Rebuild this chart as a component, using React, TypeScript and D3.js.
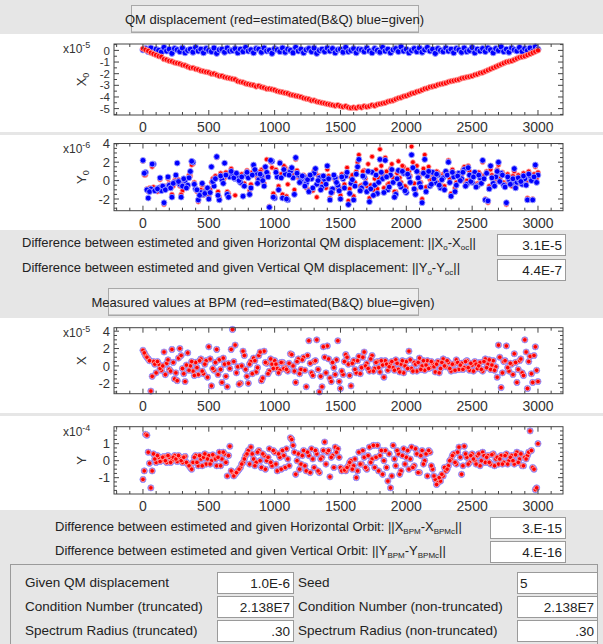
import React from "react";
import * as d3 from "d3";

// ---- data read off the screenshot ----
const STEP = 20; // sampled every 20 elements along the ring
const xTickVals = [0, 500, 1000, 1500, 2000, 2500, 3000];

// horizontal QM displacement (x1e-5)
const x0Given = [
  0.05, 0.15, -0.1, 0.2, -0.2, 0.1, 0.0, -0.15, 0.25, -0.05,
  0.1, -0.25, 0.15, 0.05, -0.1, 0.2, -0.2, 0.0, 0.1, -0.15,
  0.25, -0.05, 0.1, -0.2, 0.15, 0.0, -0.1, 0.2, -0.25, 0.05,
  0.1, -0.15, 0.2, -0.05, 0.0, 0.15, -0.2, 0.1, -0.1, 0.25,
  -0.05, 0.05, -0.2, 0.15, 0.1, -0.15, 0.2, -0.05, 0.0, -0.25,
  0.15, 0.05, -0.1, 0.2, -0.15, 0.1, 0.0, -0.2, 0.25, -0.05,
  0.1, -0.2, 0.05, 0.15, -0.1, 0.2, -0.25, 0.0, 0.1, -0.1,
  0.2, -0.05, 0.15, -0.2, 0.05, 0.1, -0.15, 0.25, -0.1, 0.0,
  0.15, -0.2, 0.1, 0.05, -0.1, 0.2, -0.05, -0.2, 0.15, 0.0,
  -0.15, 0.25, -0.05, 0.1, -0.2, 0.05, 0.15, -0.1, 0.3, -0.05,
  0.1, -0.2, 0.0, 0.15, -0.1, 0.2, -0.15, 0.05, 0.25, -0.05,
  0.1, -0.25, 0.15, 0.0, -0.1, 0.2, -0.05, 0.1, -0.2, 0.15,
  0.05, -0.15, 0.2, -0.1, 0.0, 0.25, -0.2, 0.1, -0.05, 0.15,
  -0.1, 0.2, 0.05, -0.2, 0.15, 0.0, 0.3, -0.1, 0.1, -0.15,
  0.2, 0.05, -0.05, 0.25, -0.1, 0.15, 0.0, 0.2, -0.1, 0.3,
  0.1,
];
const x0Est = [
  0.15, 0.05, -0.05, -0.2, -0.3, -0.4, -0.5, -0.55, -0.75, -0.8,
  -0.9, -0.95, -1.05, -1.1, -1.15, -1.25, -1.3, -1.4, -1.5, -1.5,
  -1.6, -1.65, -1.75, -1.8, -1.85, -1.9, -2.0, -2.0, -2.1, -2.2,
  -2.2, -2.3, -2.35, -2.4, -2.45, -2.5, -2.65, -2.7, -2.75, -2.85,
  -2.9, -2.95, -3.0, -3.1, -3.05, -3.15, -3.2, -3.3, -3.3, -3.35,
  -3.4, -3.5, -3.55, -3.6, -3.65, -3.7, -3.8, -3.85, -3.9, -3.95,
  -4.0, -4.1, -4.15, -4.2, -4.3, -4.3, -4.4, -4.45, -4.5, -4.55,
  -4.6, -4.65, -4.7, -4.75, -4.7, -4.8, -4.85, -4.8, -4.9, -4.95,
  -4.9, -4.95, -4.85, -4.9, -4.8, -4.85, -4.8, -4.7, -4.75, -4.65,
  -4.6, -4.55, -4.5, -4.4, -4.35, -4.3, -4.2, -4.1, -4.05, -3.95,
  -3.9, -3.8, -3.7, -3.65, -3.55, -3.5, -3.4, -3.3, -3.25, -3.15,
  -3.1, -3.05, -2.95, -2.9, -2.85, -2.8, -2.7, -2.65, -2.6, -2.55,
  -2.5, -2.4, -2.35, -2.3, -2.25, -2.2, -2.1, -2.05, -1.95, -1.9,
  -1.8, -1.7, -1.6, -1.5, -1.4, -1.3, -1.2, -1.1, -1.0, -0.95,
  -0.9, -0.8, -0.7, -0.6, -0.55, -0.5, -0.4, -0.3, -0.2, -0.1,
  0.0,
];

// vertical QM displacement (x1e-6); "A" at 0,20,40.. and "B" at 10,30,50..
const y0GivenA = [
  2.2, 0.9, -1.9, -0.9, 1.8, -1.0, -0.8, -1.1, -2.4, -0.7,
  -0.5, -1.8, -0.2, 1.9, -0.4, -0.6, 0.0, -0.5, 1.0, 2.0,
  -0.9, -2.1, -1.3, -1.5, -1.2, -2.0, 1.5, -0.6, 2.6, -2.1,
  0.1, 1.9, -1.5, 0.4, 0.7, 0.2, 0.5, -0.2, -1.7, 0.6,
  0.3, -0.8, 1.7, 0.8, 0.1, 0.5, -0.6, 0.9, -2.9, 2.1,
  -1.9, 0.4, 1.9, -1.9, 0.7, -2.1, 1.0, 0.3, 2.5, 0.6,
  0.0, 0.4, -0.3, -1.2, 0.2, 0.8, -0.4, 0.3, -0.7, 0.1,
  1.6, -2.1, -0.9, 0.3, -0.5, -2.0, 0.2, 0.5, -2.6, -0.3,
  -2.1, 0.7, 2.3, -0.8, 0.4, -1.2, -2.3, 0.9, -0.5, -1.4,
  2.3, 0.2, 2.2, -1.0, 0.6, -0.2, -1.5, 1.1, -0.7, 0.8,
  -1.3, 0.4, 2.8, -0.9, 1.0, -0.3, -2.4, 2.3, 0.5, -0.6,
  0.9, -0.2, 0.6, -0.8, 0.3, 1.0, 2.0, -1.7, 0.4, -0.5,
  0.8, 0.2, 1.2, -0.4, 0.6, -0.2, 0.9, -0.6, 0.3, 2.2,
  -2.1, -2.2, 1.6, -0.3, 0.4, 2.0, 0.8, -0.5, -2.4, 0.1,
  -0.3, 1.3, -0.2, 0.0, -0.4, 0.2, -2.1, 0.5, -2.1, 1.7,
  0.6,
];
const y0GivenB = [
  0.8, -1.0, -1.2, 1.8, -1.1, -0.9, 0.3, -0.6, -1.0, 0.4,
  -0.8, -0.3, 0.6, -0.1, -1.8, 0.2, -0.8, 0.3, 2.1, -0.4,
  -1.0, -1.6, -0.3, -1.4, -0.8, -1.3, -0.1, 0.2, -1.6, 0.5,
  -0.3, 0.6, -1.8, 1.0, 0.3, 0.8, 0.0, 0.4, -0.6, 0.9,
  -1.5, 0.6, 1.2, -0.3, 0.7, 0.0, 1.5, 0.4, 2.2, -1.8,
  0.9, -1.0, 0.3, 1.2, -2.0, 0.6, 1.4, -1.5, 0.8, -0.2,
  0.5, -0.6, 0.1, 0.6, -0.8, 1.3, 0.0, -1.0, 0.5, -0.4,
  0.2, -1.3, 0.6, -0.2, -1.1, 0.4, -0.8, 0.9, -1.4, 0.1,
  -0.6, 1.5, -1.1, 0.5, -0.3, 1.0, -0.9, -1.6, 0.6, -0.2,
  0.9, -1.3, 0.4, -0.7, 1.2, -1.8, 0.2, -0.4, 1.0, -1.1,
  0.7, -0.2, 1.4, -1.5, 0.3, -0.7, 0.8, -1.2, 1.0, -0.4,
  0.2, 0.7, -0.5, 0.1, -1.0, 0.6, -0.2, 0.9, -1.2, 0.5,
  0.0, 0.9, -0.6, 1.4, -0.1, 0.4, -0.7, 0.6, -0.3, 0.2,
  0.8, -0.9, 0.3, -0.6, 1.0, -0.1, 0.6, -0.7, 0.4, -0.4,
  0.2, -0.8, 0.3, -0.1, 0.5, -0.5, 0.7, 0.0, 0.4, -0.2,
];
const y0EstA = [
  2.1, 0.6, -1.2, -1.0, -0.7, -0.9, -1.1, -0.6, -2.6, -0.9,
  -0.3, -1.5, 0.0, -0.3, -0.6, -1.1, 0.2, -0.7, 0.5, 1.8,
  -0.8, -2.3, -1.0, -1.6, -1.4, -1.7, -0.2, 0.3, 2.5, -1.8,
  0.4, 0.3, -1.2, 0.6, 0.9, -1.6, 0.7, 0.1, -0.5, 0.8,
  0.5, -0.4, 1.5, 0.6, 0.3, 1.2, -0.3, 2.3, -2.8, 1.4,
  -1.7, 0.8, 2.0, -1.5, 1.4, -0.4, 1.2, 0.6, 2.3, 0.3,
  -0.2, 0.6, -0.8, -1.0, 0.5, 1.1, -1.8, 0.5, -0.3, 0.4,
  1.2, -1.9, -1.3, 0.0, -0.8, -1.6, 0.5, 0.8, -2.2, 0.3,
  -1.7, 1.0, 2.8, -0.5, 1.1, -0.6, -1.9, 2.6, 0.2, -0.9,
  3.4, 0.7, 2.5, -0.4, 1.3, 0.3, -1.2, 2.1, -0.2, 1.5,
  -0.8, 1.0, 3.7, -0.3, 1.6, 0.4, -2.0, 2.8, 1.0, 0.1,
  0.5, 0.2, 0.9, -0.5, 0.7, 0.6, 2.2, -1.4, 0.8, -0.2,
  0.5, 0.6, 1.5, 0.0, 1.0, 0.3, 0.6, -0.3, 0.7, 2.0,
  -2.0, -2.4, 1.2, 0.1, 0.2, 1.7, 0.5, -0.2, -2.6, 0.4,
  -0.6, 1.0, 0.2, -0.3, -0.1, 0.5, -1.9, 0.3, -2.0, 1.5,
  0.9,
];
const y0EstB = [
  0.6, -0.9, -0.8, 1.5, -1.0, -1.2, 0.1, -0.8, -0.6, 0.2,
  -0.5, -0.6, 0.4, 0.1, -1.5, -0.2, -0.6, 0.6, 1.7, -0.2,
  -1.2, -1.3, -0.5, -1.1, -1.0, -0.9, 0.2, 0.5, -1.2, 0.8,
  0.0, 0.9, -1.4, 1.3, 0.5, 0.6, 0.3, 0.7, -0.3, 1.1,
  -1.1, 0.9, 1.0, 0.2, 1.0, 0.4, 1.3, 0.8, 2.0, -1.4,
  1.2, -0.6, 0.7, 1.6, -1.7, 1.0, 1.2, -1.0, 1.1, 0.2,
  0.2, -0.3, 0.4, 0.3, -1.1, 0.9, 0.5, -0.6, 0.2, -0.8,
  0.5, -0.9, 0.3, 0.3, -0.7, 0.7, -0.4, 1.4, -0.9, 0.6,
  -0.2, 2.0, -0.6, 1.0, 0.2, 1.8, -0.5, -1.0, 1.2, 0.3,
  1.6, -0.8, 1.0, -0.3, 1.8, -1.2, 0.8, 0.3, 1.6, -0.6,
  1.2, 0.5, 2.0, -1.0, 0.9, -0.2, 1.3, -0.7, 1.5, 0.1,
  0.5, 1.0, -0.2, 0.5, -0.6, 0.9, 0.2, 1.2, -0.8, 0.8,
  0.3, 1.2, -0.3, 1.6, 0.2, 0.7, -0.4, 0.9, 0.0, 0.5,
  1.0, -0.6, 0.6, -0.3, 1.2, 0.2, 0.9, -0.4, 0.7, -0.1,
  0.5, -0.5, 0.6, 0.2, 0.8, -0.2, 1.0, 0.3, 0.7, 0.2,
];

// orbit at the BPMs; estimated and given coincide (diff ~1e-15)
const xBpmA = [
  1.8, 1.2, 0.8, -2.9, 0.5, -0.8, 0.2, -0.5, 1.6, 0.3,
  -0.4, 1.9, -1.5, -1.7, 2.0, -0.3, -1.8, 1.5, 0.0, -0.6,
  0.4, -1.0, 0.8, -0.9, 0.6, 2.2, -2.3, -0.5, 1.9, 0.7,
  -1.9, 0.2, -2.4, -0.3, 4.2, 2.4, -0.1, -2.0, 1.7, -0.4,
  -2.0, 0.5, 0.9, -0.7, 1.2, -1.7, 1.7, 0.3, -0.6, 0.2,
  0.6, -0.3, -0.5, 0.4, -0.2, -0.6, 1.4, 0.0, -1.9, 0.8,
  -0.4, 1.0, -2.4, 2.9, -0.8, 0.5, 3.0, -3.0, -2.4, 1.0,
  2.3, -1.4, 0.4, -1.0, 2.9, -2.6, -1.0, 1.3, 0.2, -2.3,
  0.6, -0.8, 1.1, -0.2, 1.6, 0.3, -0.6, 1.2, -0.3, 0.5,
  -0.7, 0.1, 0.6, -0.5, 0.3, -0.2, 0.7, -0.4, 0.2, -0.8,
  0.5, 1.7, -0.3, 0.4, -0.6, 0.9, 0.0, -0.5, 0.6, -0.2,
  0.3, -0.7, 0.5, -0.3, 0.8, -0.1, 0.4, -0.6, 0.2, 0.7,
  -0.4, 0.3, -0.2, 0.6, -0.5, 0.1, 0.5, -0.3, 0.4, -0.6,
  0.8, 0.2, -0.4, 0.6, -0.1, 2.4, -2.5, 0.5, 2.3, -0.6,
  0.2, 1.4, -1.9, 0.6, -0.8, 3.0, -2.6, 1.1, -1.9, 2.2,
  -1.8,
];
const xBpmB = [
  1.5, 1.0, 0.6, -1.2, 0.2, 0.5, -0.3, 0.0, -1.0, 0.7,
  -0.6, 0.4, -0.8, 0.9, 1.2, -0.9, 0.1, -0.5, 0.5, -1.1,
  -0.2, 0.6, -0.6, 0.2, -1.3, 0.8, -0.3, 0.4, -1.0, -0.4,
  0.9, -1.2, 0.3, 1.9, 0.5, -0.8, -2.1, 0.0, 1.2, -1.2,
  0.2, -0.9, 0.6, -0.2, 1.6, -1.4, 0.4, -0.9, 0.8, -0.3,
  0.2, -0.8, 0.4, -0.3, -0.4, 0.3, 1.3, -0.6, 0.5, -0.9,
  0.7, -0.5, 1.2, 0.3, -1.1, 0.6, -0.4, -1.2, 2.2, -0.8,
  0.8, -1.8, -0.2, 0.7, -1.8, -0.6, 0.5, 1.0, -1.1, 0.3,
  -0.4, 0.6, -0.9, 1.0, 0.0, -0.3, 0.8, -0.6, 0.4, -0.2,
  0.6, -1.3, 0.2, -0.1, 0.5, -0.5, 0.3, -0.7, 0.6, 0.0,
  -0.3, 0.7, -0.6, 0.2, 0.4, -0.4, 0.6, 0.1, -0.3, 0.5,
  -0.1, 0.2, -0.8, 0.4, 0.0, 0.6, -0.3, 0.2, -0.5, 0.4,
  0.1, -0.4, 0.5, -0.2, 0.3, -0.6, 0.2, 0.0, -0.4, 0.5,
  -0.2, 0.7, 0.1, -0.5, -1.3, 1.0, -0.8, 0.6, -0.2, 0.3,
  -1.0, 0.4, -0.4, 0.8, -1.1, 1.6, 0.5, -0.9, 1.2, -0.5,
];
const yBpmA = [
  -1.1, 1.55, 0.5, -1.6, 0.4, -0.1, 0.2, 0.0, 0.25, -0.1,
  0.2, 0.0, 0.3, -0.05, 0.2, -0.1, 0.25, -0.2, -0.4, -0.1,
  0.3, -0.3, 0.1, 0.2, -0.2, 0.3, 0.0, 0.25, -0.3, 0.5,
  0.1, 0.4, -0.9, 0.85, -0.7, -0.8, -0.6, -0.4, -0.1, 0.3,
  0.6, 0.8, 0.1, -0.1, 0.6, -0.4, 0.3, 0.0, 0.7, -0.3,
  0.5, -0.6, 0.2, 0.6, -0.4, 0.1, 1.35, 0.9, -0.8, 0.4,
  -0.2, 0.6, -0.6, 0.3, 0.7, -0.4, 0.4, -0.7, 0.2, 1.1,
  0.5, -0.95, 0.3, 0.8, 0.7, -0.4, -0.5, -0.6, -0.3, 0.0,
  -0.3, -1.0, 0.5, -0.2, 0.2, -0.5, 0.8, 0.1, -0.4, 0.9,
  0.3, -0.8, 0.6, -1.2, -1.6, 0.9, -0.3, 0.4, -0.6, 0.7,
  0.2, -0.5, 0.8, -0.3, 0.4, -0.7, 0.6, 0.0, -0.9, 0.5,
  -0.5, -1.1, -1.3, -1.2, -0.9, -0.6, -0.3, 0.1, 0.4, -0.2,
  0.8, -0.8, 0.85, 0.2, -0.1, 0.4, 0.0, 0.3, -0.3, 0.5,
  -0.1, 0.3, -0.2, 0.4, 0.1, -0.2, 0.3, -0.1, 0.4, 0.0,
  0.3, -0.2, 0.5, 0.1, -0.3, 0.2, 0.3, 1.75, -0.4, -1.7,
  1.0,
];
const yBpmB = [
  -0.6, 1.5, -0.15, -0.6, 0.1, 0.3, -0.05, 0.2, 0.0, 0.3,
  -0.1, 0.2, 0.1, 0.3, 0.0, 0.2, -0.1, -0.3, -0.5, 0.2,
  -0.1, 0.3, -0.3, 0.4, 0.1, -0.2, 0.35, 0.1, 0.2, -0.3,
  0.5, -0.1, 0.3, -0.6, -0.9, -0.7, -0.5, -0.2, 0.1, 0.4,
  -0.2, 0.4, -0.3, 0.5, 0.0, 0.4, -0.5, 0.2, -0.1, 0.6,
  -0.2, 0.4, -0.5, 0.3, 0.7, -0.3, 1.25, 0.5, 0.0, -0.5,
  0.3, -0.3, 0.5, -0.7, 0.1, 0.6, -0.6, 0.1, 0.6, -0.2,
  0.6, 0.2, -0.4, 0.5, 0.2, -0.6, -0.55, -0.4, -0.1, -0.5,
  0.1, -0.6, -0.2, 0.6, -0.4, 0.3, -0.1, 0.9, 0.2, -0.6,
  0.6, 0.0, -0.4, 0.4, -0.9, 0.1, 0.6, -0.8, 0.3, -0.2,
  0.6, 0.1, -0.4, 0.7, -0.7, 0.3, -0.2, 0.4, 0.6, -0.3,
  -0.9, -1.4, -1.0, -0.8, -0.4, -0.5, 0.0, 0.3, -0.1, 0.5,
  0.2, -0.3, 0.4, -0.2, 0.3, 0.1, -0.2, 0.4, 0.0, 0.3,
  0.2, -0.1, 0.35, -0.3, 0.2, 0.1, -0.2, 0.3, -0.2, 0.2,
  0.0, 0.35, -0.1, 0.4, -0.3, 0.1, 0.5, 0.6, -0.5, -1.6,
];

const qmDiff = ["3.1E-5", "4.4E-7"];
const orbitDiff = ["3.E-15", "4.E-16"];
const params = [
  ["Given QM displacement", "1.0E-6", "Seed", "5"],
  ["Condition Number (truncated)", "2.138E7", "Condition Number (non-truncated)", "2.138E7"],
  ["Spectrum Radius (truncated)", ".30", "Spectrum Radius (non-truncated)", ".30"],
];

const posA = d3.range(0, 3000 + STEP, STEP);
const posB = d3.range(STEP / 2, 3000, STEP);
const FONT = "'Liberation Sans', Arial, sans-serif";
const BG = "#e6e6e6";

const frameL = 114, frameR = 563;
const x = d3.scaleLinear().domain([-220, 3190]).range([frameL, frameR]);

function Plot({ top, bottom, domain, majorY, minorStep, exp, name, sub, series, ySize = 13 }) {
  const y = d3.scaleLinear().domain(domain).range([bottom, top]);
  const minorX = d3.range(-200, 3190, 100);
  const minorY = d3.range(Math.ceil(domain[0] / minorStep) * minorStep, domain[1], minorStep);
  const mid = (top + bottom) / 2;
  return (
    <g>
      {series.map((s, si) => (
        <g key={si}>
          {s.values.map((v, i) => (
            <circle key={i} cx={x(s.pos[i])} cy={y(v)} r={s.r}
              fill={s.fill} stroke={s.halo} strokeWidth={0.9} />
          ))}
        </g>
      ))}
      <rect x={frameL} y={top} width={frameR - frameL} height={bottom - top}
        fill="none" stroke="#444" strokeWidth={1} />
      {minorX.map(t => {
        const l = t % 500 === 0 ? 5 : 3;
        return (
          <g key={"mx" + t} stroke="#444">
            <line x1={x(t)} x2={x(t)} y1={bottom} y2={bottom - l} />
            <line x1={x(t)} x2={x(t)} y1={top} y2={top + l} />
          </g>
        );
      })}
      {minorY.map(t => {
        const l = majorY.some(m => Math.abs(m - t) < 1e-9) ? 5 : 3;
        return (
          <g key={"my" + t} stroke="#444">
            <line x1={frameL} x2={frameL + l} y1={y(t)} y2={y(t)} />
            <line x1={frameR} x2={frameR - l} y1={y(t)} y2={y(t)} />
          </g>
        );
      })}
      {majorY.map(t => (
        <text key={"ly" + t} x={frameL - 4} y={y(t) + ySize * 0.36} textAnchor="end"
          fontSize={ySize} fill="#333" fontFamily={FONT}>{t}</text>
      ))}
      {xTickVals.map(t => (
        <text key={"lx" + t} x={x(t)} y={bottom + 17} textAnchor="middle"
          fontSize={14} fill="#333" fontFamily={FONT}>{t}</text>
      ))}
      <text x={63} y={top + 9} fontSize={12} fill="#333" fontFamily={FONT}>
        x10<tspan fontSize={9} dy={-5}>{exp}</tspan>
      </text>
      <text transform={`translate(${frameL - 28},${mid}) rotate(-90)`} textAnchor="middle"
        fontSize={13} fill="#333" fontFamily={FONT}>
        {name}{sub ? <tspan fontSize={9} dy={3}>{sub}</tspan> : null}
      </text>
    </g>
  );
}

function Button({ x0, y0, w, h, label }) {
  return (
    <g>
      <rect x={x0 + 0.5} y={y0 + 0.5} width={w} height={h} fill="#eeeeee" stroke="#a8a8a8" />
      <line x1={x0 + 1} x2={x0 + w} y1={y0 + h - 0.5} y2={y0 + h - 0.5} stroke="#c8c8c8" />
      <text x={x0 + w / 2} y={y0 + h / 2 + 5} textAnchor="middle" fontSize={13}
        fill="#222" fontFamily={FONT}>{label}</text>
    </g>
  );
}

function Field({ x0, y0, w, h, value, left = false }) {
  return (
    <g>
      <rect x={x0 + 0.5} y={y0 + 0.5} width={w} height={h} fill="#fff" stroke="#9a9a9a" />
      <text x={left ? x0 + 3 : x0 + w - 3} y={y0 + h / 2 + 5} textAnchor={left ? "start" : "end"}
        fontSize={13.5} fill="#222" fontFamily={FONT}>{value}</text>
    </g>
  );
}

const S = { fontSize: 8 };

export default function App() {
  const blue = (values, pos, r) => ({ values, pos, fill: "#0000ff", r, halo: "#a3a3ff" });
  const red = (values, pos, r) => ({ values, pos, fill: "#ff0000", r, halo: "#ffa0a0" });
  return (
    <svg width={603} height={644} style={{ position: "absolute", left: 0, top: 0 }}>
      <rect width={603} height={644} fill={BG} />
      {/* white plot panels */}
      <rect x={0} y={34} width={603} height={98} fill="#fff" />
      <rect x={0} y={135} width={603} height={95} fill="#fff" />
      <rect x={0} y={318} width={603} height={95} fill="#fff" />
      <rect x={0} y={416} width={603} height={94} fill="#fff" />

      <Button x0={131} y0={5} w={287} h={27} label="QM displacement (red=estimated(B&Q) blue=given)" />

      <Plot top={44} bottom={115} domain={[-5.55, 0.55]} majorY={[0, -1, -2, -3, -4, -5]}
        minorStep={0.5} exp="-5" name="X" sub="0" ySize={11.5}
        series={[blue(x0Given, posA, 3.1), red(x0Est, posA, 2.7)]} />
      <Plot top={143.5} bottom={210.7} domain={[-3.27, 4.03]} majorY={[4, 2, 0, -2]}
        minorStep={0.5} exp="-6" name="Y" sub="0"
        series={[red(y0EstA, posA, 2.4), red(y0EstB, posB, 2.4),
          blue(y0GivenA, posA, 2.9), blue(y0GivenB, posB, 2.9)]} />

      <text x={22} y={247} fontSize={13} fill="#222" fontFamily={FONT}>
        Difference between estimeted and given Horizontal QM displacement: ||X
        <tspan {...S} dy={3}>o</tspan><tspan dy={-3}>-X</tspan>
        <tspan {...S} dy={3}>oc</tspan><tspan dy={-3}>||</tspan>
      </text>
      <Field x0={497} y0={234} w={68} h={21} value={qmDiff[0]} />
      <text x={22} y={272} fontSize={13} fill="#222" fontFamily={FONT}>
        Difference between estimeted and given Vertical QM displacement: ||Y
        <tspan {...S} dy={3}>o</tspan><tspan dy={-3}>-Y</tspan>
        <tspan {...S} dy={3}>oc</tspan><tspan dy={-3}>||</tspan>
      </text>
      <Field x0={497} y0={259} w={68} h={21} value={qmDiff[1]} />

      <Button x0={108} y0={288} w={310} h={27} label="Measured values at BPM (red=estimated(B&Q) blue=given)" />

      <Plot top={327.7} bottom={393.7} domain={[-3.2, 4.4]} majorY={[4, 2, 0, -2]}
        minorStep={0.5} exp="-5" name="X" sub=""
        series={[blue(xBpmA, posA, 3.1), blue(xBpmB, posB, 3.1),
          red(xBpmA, posA, 2.3), red(xBpmB, posB, 2.3)]} />
      <Plot top={426.7} bottom={494} domain={[-1.96, 2.0]} majorY={[1, 0, -1]}
        minorStep={0.25} exp="-4" name="Y" sub=""
        series={[blue(yBpmA, posA, 3.1), blue(yBpmB, posB, 3.1),
          red(yBpmA, posA, 2.3), red(yBpmB, posB, 2.3)]} />

      <text x={55} y={531} fontSize={13} fill="#222" fontFamily={FONT}>
        Difference between estimeted and given Horizontal Orbit: ||X
        <tspan {...S} dy={3}>BPM</tspan><tspan dy={-3}>-X</tspan>
        <tspan {...S} dy={3}>BPMc</tspan><tspan dy={-3}>||</tspan>
      </text>
      <Field x0={490} y0={517} w={75} h={21} value={orbitDiff[0]} />
      <text x={55} y={555} fontSize={13} fill="#222" fontFamily={FONT}>
        Difference between estimeted and given Vertical Orbit: ||Y
        <tspan {...S} dy={3}>BPM</tspan><tspan dy={-3}>-Y</tspan>
        <tspan {...S} dy={3}>BPMc</tspan><tspan dy={-3}>||</tspan>
      </text>
      <Field x0={490} y0={541} w={75} h={21} value={orbitDiff[1]} />

      <rect x={10.5} y={564.5} width={587} height={90} fill="none" stroke="#9a9a9a" />
      {params.map((row, i) => {
        const ry = 572 + i * 24;
        return (
          <g key={i}>
            <text x={25} y={ry + 15} fontSize={13.5} fill="#222" fontFamily={FONT}>{row[0]}</text>
            <Field x0={217} y0={ry} w={76} h={21} value={row[1]} />
            <text x={298} y={ry + 15} fontSize={13.5} fill="#222" fontFamily={FONT}>{row[2]}</text>
            <Field x0={517} y0={ry} w={80} h={21} value={row[3]} left={i === 0} />
          </g>
        );
      })}
    </svg>
  );
}
